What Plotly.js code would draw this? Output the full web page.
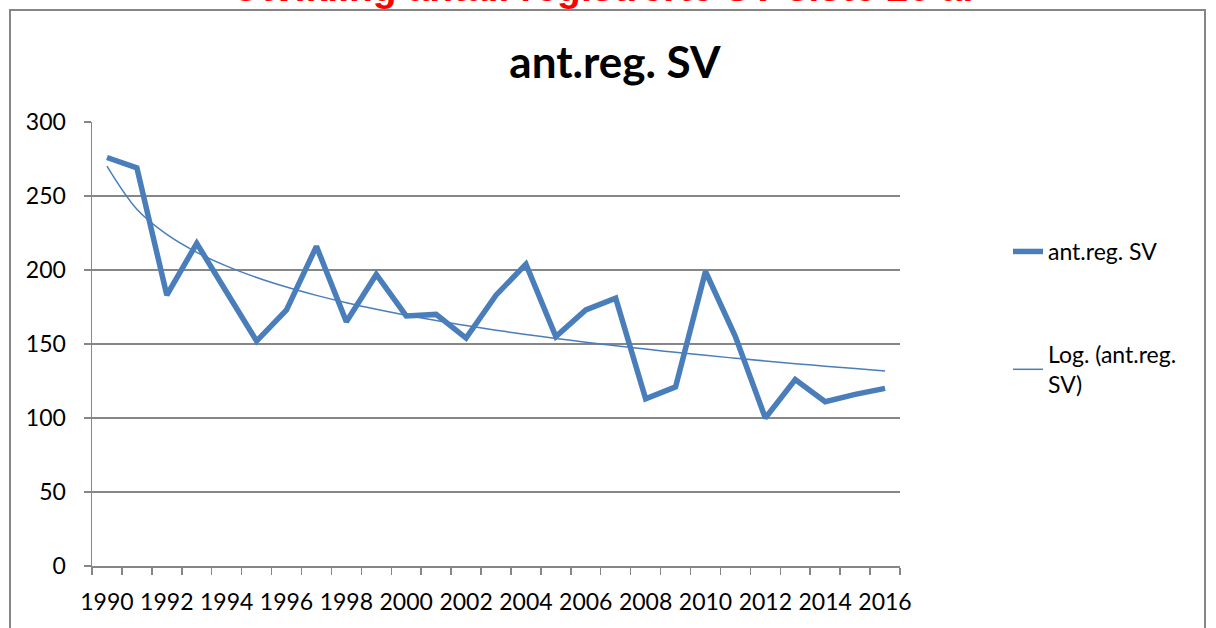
<!DOCTYPE html>
<html>
<head>
<meta charset="utf-8">
<script src="https://cdn.plot.ly/plotly-3.0.1.min.js"></script>
<style>html,body{margin:0;padding:0;background:#fff;}#chart{width:1216px;height:628px;}</style>
</head>
<body>
<div id="chart"></div>
<script>
// ---- data ----
const years = [1990,1991,1992,1993,1994,1995,1996,1997,1998,1999,2000,2001,2002,2003,2004,2005,2006,2007,2008,2009,2010,2011,2012,2013,2014,2015,2016];
const antRegSV = [276,269,183,218,185,152,173,216,165,197,169,170,154,183,204,155,173,181,113,121,199,155,100,126,111,116,120];
const seriesName = "ant.reg. SV";
const trendName = "Log. (ant.reg.<br>SV)";
const chartTitle = "ant.reg. SV";
const topTitle = "Utvikling antall registrerte SV siste 26 år";
const yTicks = [0,50,100,150,200,250,300];

// ---- logarithmic trendline (least squares on ln of category index, as Excel does) ----
const idx = years.map((_, i) => i + 1);
const lx = idx.map(Math.log);
const n = lx.length;
const mx = lx.reduce((a, b) => a + b, 0) / n;
const my = antRegSV.reduce((a, b) => a + b, 0) / n;
let sxy = 0, sxx = 0;
for (let i = 0; i < n; i++) { sxy += (lx[i] - mx) * (antRegSV[i] - my); sxx += (lx[i] - mx) ** 2; }
const slope = sxy / sxx, intercept = my - slope * mx;
const trend = lx.map(v => intercept + slope * v);

// ---- geometry ----
const W = 1216, H = 628;
const plotL = 92, plotR = 900, plotT = 122, plotB = 566;
const pw = plotR - plotL, ph = plotB - plotT;
const px = x => (x - plotL) / pw;
const py = y => (plotB - y) / ph;

const blue = "#4A7EBB";
const gray = "#868686";
const font = "Lato, 'Open Sans', sans-serif";

const boundaries = years.map(y => y - 0.5).concat([years[years.length - 1] + 0.5]);
const labelYears = years.filter((y, i) => i % 2 === 0);

const traces = [
  {x: years, y: antRegSV, type: "scatter", mode: "lines", name: seriesName,
   line: {color: blue, width: 5.5}, legendgroup: "a"},
  {x: years, y: trend, type: "scatter", mode: "lines", name: trendName,
   line: {color: blue, width: 1.5, shape: "spline", smoothing: 1}, legendgroup: "b"}
];

const layout = {
  width: W, height: H,
  margin: {l: plotL, r: W - plotR, t: plotT, b: H - plotB, pad: 0},
  paper_bgcolor: "#fff", plot_bgcolor: "#fff",
  font: {family: font, size: 23, color: "#000"},
  title: {text: "<b>" + chartTitle + "</b>", font: {family: font, size: 44, color: "#000"},
          x: 615 / W, xref: "container", xanchor: "center", y: 1 - 63 / H, yref: "container", yanchor: "middle"},
  showlegend: true,
  legend: {x: px(1008), y: py(230), xanchor: "left", yanchor: "top", font: {family: font, size: 23, color: "#000"},
           tracegroupgap: 70, bgcolor: "rgba(0,0,0,0)"},
  xaxis: {type: "linear", range: [boundaries[0], boundaries[boundaries.length - 1]],
          tickmode: "array", tickvals: boundaries, ticktext: boundaries.map(() => ""),
          ticks: "outside", ticklen: 7, tickwidth: 1.5, tickcolor: gray,
          showline: true, linecolor: gray, linewidth: 1.5, showgrid: false, zeroline: false, fixedrange: true},
  xaxis2: {type: "linear", overlaying: "x", anchor: "y", side: "bottom",
           range: [boundaries[0], boundaries[boundaries.length - 1]],
           tickmode: "array", tickvals: labelYears, ticktext: labelYears.map(String),
           ticks: "", showline: false, showgrid: false, zeroline: false, ticklabelstandoff: 20,
           tickfont: {family: font, size: 23, color: "#000"}, fixedrange: true},
  yaxis: {range: [0, 300], tickmode: "array", tickvals: yTicks, ticktext: yTicks.map(String),
          ticks: "outside", ticklen: 7, tickwidth: 1.5, tickcolor: gray, ticklabelstandoff: 13,
          showline: true, linecolor: gray, linewidth: 1.5,
          showgrid: true, gridcolor: gray, gridwidth: 1.4, zeroline: false,
          tickfont: {family: font, size: 23, color: "#000"}, fixedrange: true},
  shapes: [
    {type: "rect", xref: "paper", yref: "paper", x0: px(10), x1: px(1205), y0: py(H + 40), y1: py(10),
     line: {color: gray, width: 2}, fillcolor: "rgba(0,0,0,0)", layer: "below"}
  ],
  annotations: [
    {text: "<b>" + topTitle + "</b>", xref: "paper", yref: "paper", x: px(605), y: py(10),
     xanchor: "center", yanchor: "bottom", showarrow: false, borderpad: 0,
     font: {family: "'Liberation Sans', Arial, sans-serif", size: 39, color: "#FF0000"}}
  ]
};

// a dummy invisible trace so xaxis2 is drawn
traces.push({x: [years[0]], y: [null], xaxis: "x2", yaxis: "y", showlegend: false, hoverinfo: "skip", mode: "lines"});

Plotly.newPlot("chart", traces, layout, {displayModeBar: false, staticPlot: true});
</script>
</body>
</html>
